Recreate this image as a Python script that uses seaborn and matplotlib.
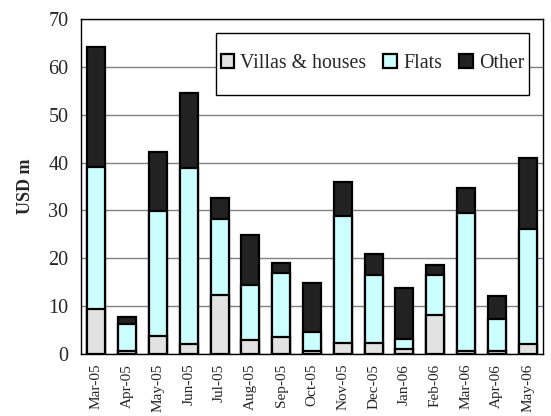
import numpy
import pandas
import seaborn
import matplotlib.pyplot as pyplt
from matplotlib.patches import Patch, Rectangle

months = ['Mar-05', 'Apr-05', 'May-05', 'Jun-05', 'Jul-05', 'Aug-05', 'Sep-05', 'Oct-05',
          'Nov-05', 'Dec-05', 'Jan-06', 'Feb-06', 'Mar-06', 'Apr-06', 'May-06']
villas = [9.5, 0.6, 3.7, 2.0, 12.4, 2.9, 3.5, 0.6, 2.3, 2.4, 1.0, 8.1, 0.6, 0.7, 2.1]
flats = [29.5, 5.6, 26.2, 36.9, 15.9, 11.5, 13.5, 3.9, 26.5, 14.1, 2.2, 8.4, 28.8, 6.7, 24.1]
other = [25.1, 1.5, 12.3, 15.6, 4.3, 10.5, 2.0, 10.3, 7.2, 4.4, 10.7, 2.1, 5.4, 4.8, 14.7]

series = ['Villas & houses', 'Flats', 'Other']
colors = {'Villas & houses': '#e2e2e2', 'Flats': '#ccffff', 'Other': '#222222'}

df = pandas.DataFrame({'month': months, 'Villas & houses': villas, 'Flats': flats, 'Other': other})
df['Flats_cum'] = df['Villas & houses'] + df['Flats']
df['Other_cum'] = df['Flats_cum'] + df['Other']

seaborn.set_style('white')
pyplt.rcParams['font.family'] = ['Liberation Serif', 'DejaVu Serif']

fig = pyplt.figure(figsize=(5.51, 4.16), dpi=100)
ax = fig.add_axes([0.147, 0.149, 0.8385, 0.805])

# stack back to front: total, villas+flats, villas
for col, name in [('Other_cum', 'Other'), ('Flats_cum', 'Flats'), ('Villas & houses', 'Villas & houses')]:
    seaborn.barplot(x='month', y=col, data=df, ax=ax, color=colors[name],
                    saturation=1, width=0.58, edgecolor='black', linewidth=1.6, zorder=3)

ax.set_ylim(0, 70)
ax.set_xlim(-0.5, len(months) - 0.5)
ax.set_yticks(numpy.arange(0, 71, 10))
ax.yaxis.grid(True, color='#808080', linewidth=1.0, zorder=0)
ax.set_axisbelow(True)

ax.set_xticks(range(len(months)))
ax.set_xticklabels(months, rotation=90, fontsize=11)
ax.set_xticks(numpy.arange(-0.5, len(months), 1), minor=True)
ax.tick_params(axis='x', which='major', length=0, pad=7)
ax.tick_params(axis='x', which='minor', length=5, width=1, color='black', direction='out')
ax.tick_params(axis='y', length=5, width=1, color='black', direction='out', labelsize=14.5, pad=4)
ax.set_xlabel('')
ax.set_ylabel('USD m', fontsize=13, fontweight='bold', labelpad=10)

for s in ax.spines.values():
    s.set_color('black')
    s.set_linewidth(1.0)

# legend box drawn separately (taller than matplotlib's symmetric padding allows)
ax.add_patch(Rectangle((0.2916, 0.773), 0.6781, 0.187, transform=ax.transAxes,
                       facecolor='white', edgecolor='black', linewidth=1.0, zorder=5))
handles = [Patch(facecolor=colors[n], edgecolor='black', linewidth=1.6) for n in series]
leg = ax.legend(handles, series, ncol=3, loc='center', bbox_to_anchor=(0.6307, 0.8667),
                fontsize=14.3, frameon=False,
                handlelength=0.7, handleheight=0.7, handletextpad=0.3,
                columnspacing=0.85, borderpad=0, borderaxespad=0)
leg.set_zorder(6)

fig.savefig('out.png', dpi=100)
